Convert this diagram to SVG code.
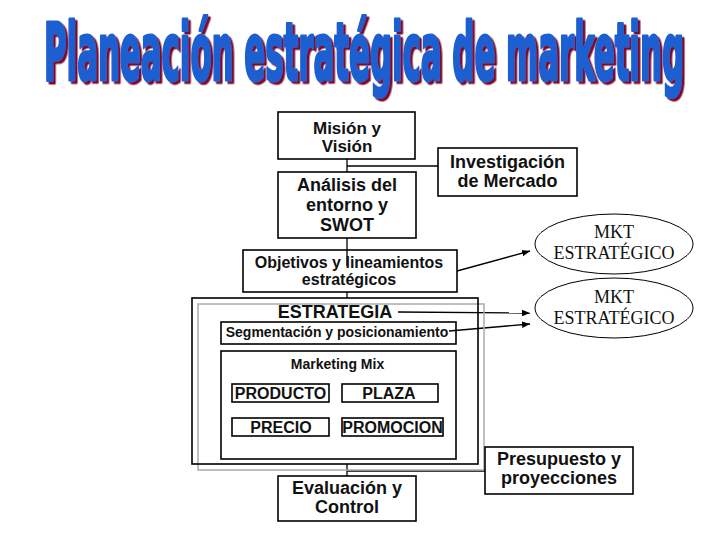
<svg xmlns="http://www.w3.org/2000/svg" width="728" height="546" viewBox="0 0 728 546">
<style>
.box{fill:none;stroke:#000;stroke-width:1.6}
.ln{fill:none;stroke:#000;stroke-width:1.3}
.t{font-family:"Liberation Sans",Arial,sans-serif;font-weight:bold;fill:#111;text-anchor:middle}
.s{font-family:"Liberation Serif","Times New Roman",serif;fill:#111;text-anchor:middle;font-size:18px}
.ttl{font-family:"DejaVu Sans Condensed","Liberation Sans Narrow",sans-serif;font-weight:bold;font-size:80px}
</style>
<defs>
<marker id="ah" viewBox="0 0 10 10" refX="10" refY="5" markerWidth="8" markerHeight="8" markerUnits="userSpaceOnUse" orient="auto">
<path d="M0,1 L10,5 L0,9 z" fill="#000"/>
</marker>
<filter id="shadow" x="-5%" y="-20%" width="110%" height="140%">
<feDropShadow dx="2.5" dy="2.5" stdDeviation="0" flood-color="#7a0f2e" flood-opacity="1"/>
</filter>
</defs>
<rect width="728" height="546" fill="#fff"/>

<g id="title" filter="url(#shadow)">
<text class="ttl" transform="scale(0.4275,1)" x="102.9" y="80" textLength="1497" lengthAdjust="spacingAndGlyphs" fill="#1f5fd0" stroke="#1f5fd0" stroke-width="3" stroke-linejoin="round">Planeación estratégica de marketing</text>
</g>

<g id="connectors">
<line class="ln" x1="347" y1="159" x2="347" y2="172"/>
<line class="ln" x1="347" y1="166" x2="438" y2="166"/>
<line class="ln" x1="347" y1="238" x2="347" y2="266"/>
<line class="ln" x1="347" y1="292" x2="347" y2="298"/>
<line class="ln" x1="347" y1="464" x2="347" y2="476"/>
<line class="ln" x1="347" y1="471" x2="485" y2="471"/>
<line class="ln" x1="457" y1="271" x2="530" y2="251" marker-end="url(#ah)"/>
<line class="ln" x1="398" y1="312" x2="530" y2="313" marker-end="url(#ah)"/>
<line class="ln" x1="449" y1="331" x2="530" y2="324" marker-end="url(#ah)"/>
</g>

<g id="mision">
<rect class="box" x="278" y="112" width="137" height="47"/>
<text class="t" font-size="17" x="347" y="133.5">Misión y</text>
<text class="t" font-size="17" x="347" y="151.5">Visión</text>
</g>

<g id="investigacion">
<rect class="box" x="438" y="148" width="139" height="48"/>
<text class="t" font-size="18" x="507.5" y="168">Investigación</text>
<text class="t" font-size="18" x="507.5" y="187">de Mercado</text>
</g>

<g id="analisis">
<rect class="box" x="278" y="172" width="138" height="66"/>
<text class="t" font-size="18" x="347" y="191">Análisis del</text>
<text class="t" font-size="18" x="347" y="211">entorno y</text>
<text class="t" font-size="18" x="347" y="231">SWOT</text>
</g>

<g id="objetivos">
<rect class="box" x="243" y="250" width="214" height="42"/>
<text class="t" font-size="16" x="349" y="268">Objetivos y lineamientos</text>
<text class="t" font-size="16" x="349" y="285">estratégicos</text>
</g>

<g id="mkt1">
<ellipse cx="614" cy="244" rx="79" ry="30" fill="none" stroke="#000" stroke-width="1"/>
<text class="s" x="614" y="238">MKT</text>
<text class="s" x="614" y="259">ESTRATÉGICO</text>
</g>

<g id="mkt2">
<ellipse cx="614" cy="308" rx="79" ry="30" fill="none" stroke="#000" stroke-width="1"/>
<text class="s" x="614" y="303">MKT</text>
<text class="s" x="614" y="324">ESTRATÉGICO</text>
</g>

<g id="estrategia">
<rect x="198" y="304" width="286" height="166" fill="none" stroke="#aaa" stroke-width="1.5"/>
<rect class="box" x="192" y="298" width="286" height="166"/>
<text class="t" font-size="18" x="335" y="318">ESTRATEGIA</text>
</g>

<g id="segmentacion">
<rect class="box" x="221" y="322" width="235" height="22"/>
<text class="t" font-size="14" x="337" y="337">Segmentación y posicionamiento</text>
</g>

<g id="mix">
<rect class="box" x="221" y="351" width="235" height="108"/>
<text class="t" font-size="14" x="337.5" y="369">Marketing Mix</text>
</g>

<g id="producto">
<rect class="box" x="232" y="384" width="97" height="18"/>
<text class="t" font-size="16" x="280.5" y="398.5">PRODUCTO</text>
</g>

<g id="plaza">
<rect class="box" x="342" y="384" width="96" height="18"/>
<text class="t" font-size="16" x="389" y="398.5">PLAZA</text>
</g>

<g id="precio">
<rect class="box" x="232" y="418" width="97" height="18"/>
<text class="t" font-size="16" x="281" y="432.5">PRECIO</text>
</g>

<g id="promocion">
<rect class="box" x="342" y="418" width="101" height="18"/>
<text class="t" font-size="16" x="392.5" y="432.5">PROMOCION</text>
</g>

<g id="presupuesto">
<rect class="box" x="485" y="447" width="148" height="47"/>
<text class="t" font-size="18" x="559" y="465">Presupuesto y</text>
<text class="t" font-size="18" x="559" y="484">proyecciones</text>
</g>

<g id="evaluacion">
<rect class="box" x="278" y="476" width="138" height="45"/>
<text class="t" font-size="18" x="347" y="494">Evaluación y</text>
<text class="t" font-size="18" x="347" y="513">Control</text>
</g>
</svg>
